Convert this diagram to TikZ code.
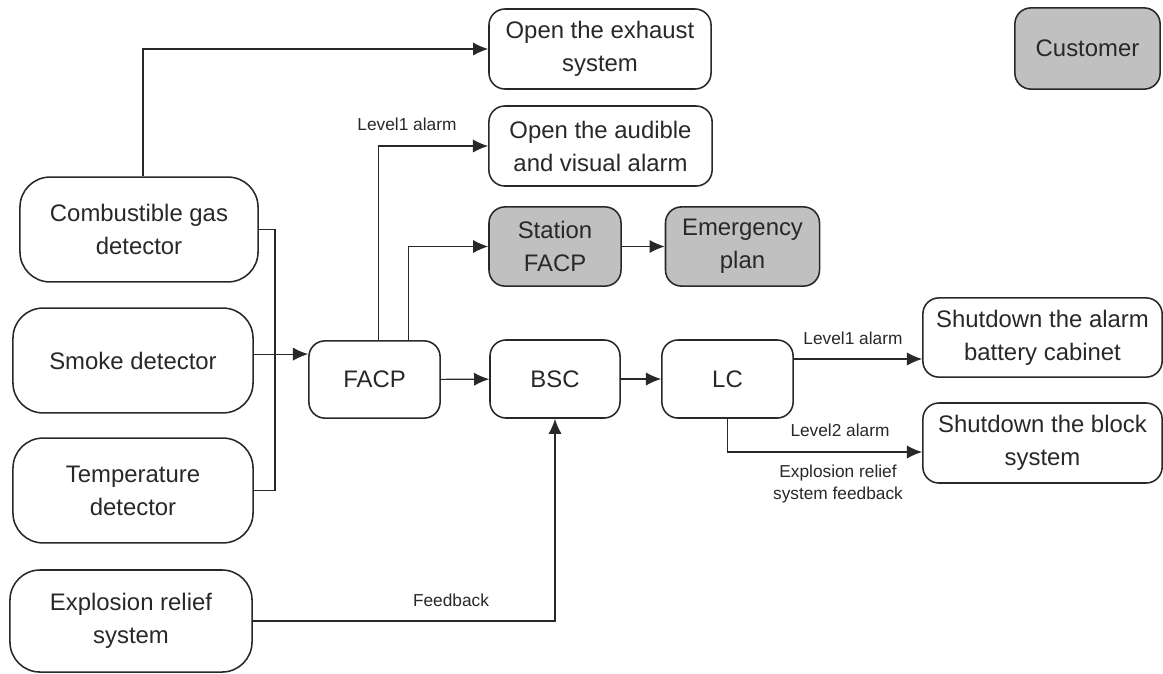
\documentclass[tikz,border=0pt]{standalone}
\usepackage{fontspec}
\setmainfont{Liberation Sans}
\usetikzlibrary{shapes,arrows.meta}
\definecolor{boxgray}{RGB}{192,192,192}
\definecolor{ink}{RGB}{40,40,40}
\tikzstyle{block} = [rectangle, draw=ink, line width=1.1pt, text=ink, align=center,
rounded corners=0.4cm, font=\fontsize{17}{23.5}\selectfont, inner sep=0pt]
\tikzstyle{block1} = [block, fill=boxgray]
\tikzstyle{sensor} = [block, rounded corners=0.75cm, minimum width=6cm, minimum height=2.62cm]
\tikzstyle{wire} = [draw=ink, line width=0.8pt]
\tikzstyle{line} = [wire, -{Latex[length=0.38cm,width=0.33cm]}]
\tikzstyle{tag} = [text=ink, align=center, font=\fontsize{12.3}{15.5}\selectfont]

\begin{document}
\begin{tikzpicture}[x=0.025cm, y=-0.025cm]
\useasboundingbox (0,0) rectangle (1163,673);
 % detectors on the left
 \node [sensor, minimum width=5.95cm] (gas) at (139,229.5) {Combustible gas\\detector};
 \node [sensor] (smoke) at (133,360.5) {Smoke detector};
 \node [sensor] (temp) at (133,490.5) {Temperature\\detector};
 \node [sensor, minimum width=6.05cm, minimum height=2.55cm] (relief) at (131,621) {Explosion relief\\system};
 % control chain
 \node [block, minimum width=3.28cm, minimum height=1.93cm] (FACP) at (374.5,379.5) {FACP};
 \node [block, minimum width=3.25cm, minimum height=1.95cm] (BSC) at (555,379) {BSC};
 \node [block, minimum width=3.28cm, minimum height=1.95cm] (LC) at (727.5,379) {LC};
 % outputs
 \node [block, minimum width=5.55cm, minimum height=2cm] (exhaust) at (600,49) {Open the exhaust\\system};
 \node [block, minimum width=5.58cm, minimum height=2cm] (audible) at (600.5,146) {Open the audible\\and visual alarm};
 \node [block1, minimum width=3.3cm, minimum height=1.98cm] (station) at (555,246.5) {Station\\FACP};
 \node [block1, minimum width=3.85cm, minimum height=1.98cm] (plan) at (742.5,246.5) {Emergency\\plan};
 \node [block1, minimum width=3.63cm, minimum height=2.03cm] (customer) at (1087.5,48.5) {Customer};
 \node [block, minimum width=5.98cm, minimum height=1.98cm] (alarmoff) at (1042.5,337.5) {Shutdown the alarm\\battery cabinet};
 \node [block, minimum width=5.98cm, minimum height=2cm] (blockoff) at (1042.5,443) {Shutdown the block\\system};
 \coordinate (bus) at (275,354);
 % connectors
 \path [line] ([xshift=0.1cm]gas.north) |- (exhaust.west);
 \path [wire] (gas.east) -| (bus) |- (temp.east);
 \path [line] ([yshift=0.16cm]smoke.east) -- ([yshift=0.16cm]smoke.east -| FACP.west);
 \path [line] ([xshift=0.09cm]FACP.north) |- (audible.west);
 \path [line] ([xshift=0.86cm]FACP.north) |- (station.west);
 \path [line] (station) -- (plan);
 \path [line] (FACP) -- (BSC);
 \path [line] (BSC) -- (LC);
 \path [line] ([yshift=0.5cm]LC.east) -- ([yshift=0.5cm]LC.east -| alarmoff.west);
 \path [line] (LC.south) |- ([yshift=-0.225cm]blockoff.west);
 \path [line] (relief.east) -| (BSC.south);
 % labels
 \node [tag] (lvA) at (407,124) {Level1 alarm};
 \node [tag] (lvB) at (853,338) {Level1 alarm};
 \node [tag] (lvC) at (840,430) {Level2 alarm};
 \node [tag] (fbA) at (838,484) {Explosion relief\\system feedback};
 \node [tag] (fbB) at (451,600) {Feedback};
\end{tikzpicture}
\end{document}
